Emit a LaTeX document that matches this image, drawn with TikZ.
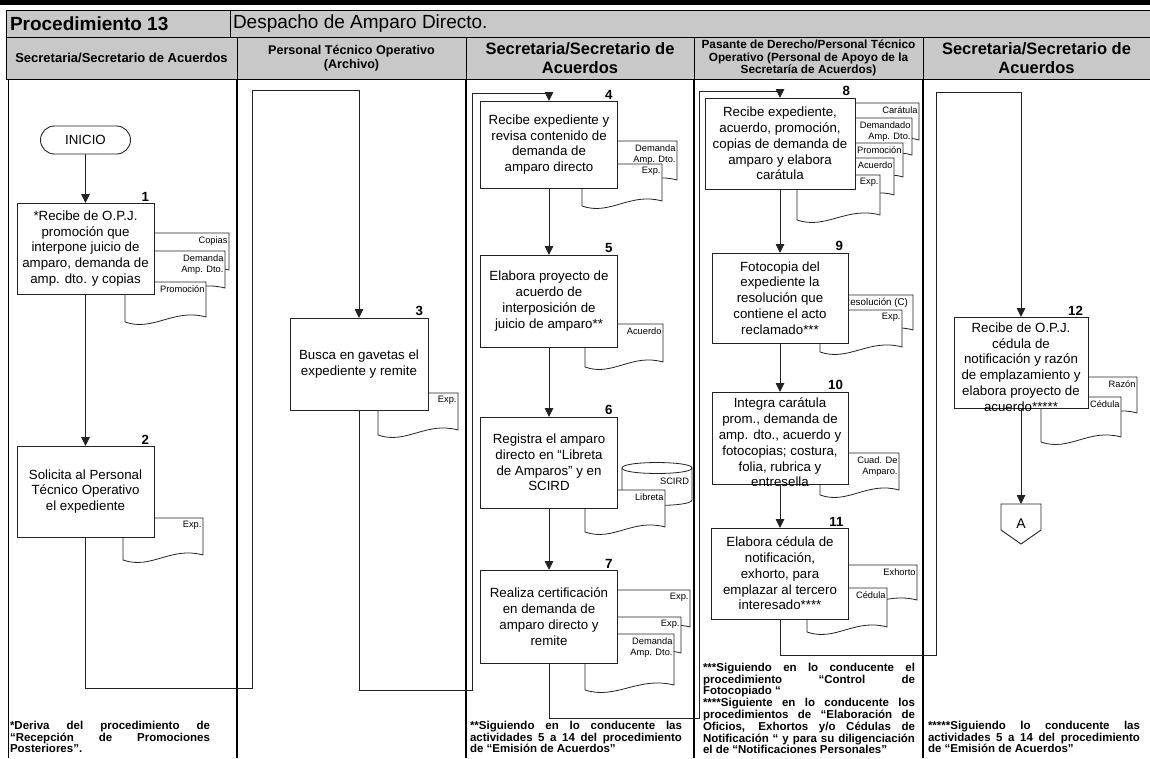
\documentclass[tikz,border=0pt]{standalone}
\usepackage{fontspec}
\setmainfont{Liberation Sans}
\usetikzlibrary{arrows.meta}
\definecolor{hdr}{RGB}{200,200,200}
\definecolor{ln}{RGB}{35,35,35}
\tikzset{
 every node/.style={inner sep=0pt, outer sep=0pt},
 proc/.style={draw=ln, line width=0.9pt, fill=white, align=center, font=\fontsize{13.3}{15.8}\selectfont},
 ptext/.style={align=center, font=\fontsize{13.3}{15.8}\selectfont},
 num/.style={font=\bfseries\fontsize{13.3}{14}\selectfont, anchor=south east},
 flow/.style={draw=ln, line width=0.9pt},
 arr/.style={flow, -{Triangle[length=9pt,width=8.5pt]}},
 docline/.style={draw=ln, line width=0.8pt, fill=white},
 doclabel/.style={font=\fontsize{9.3}{11.5}\selectfont, align=right, anchor=north east},
 lane/.style={line width=2.2pt, black},
 hdrcell/.style={fill=hdr, draw=black, line width=0.7pt},
 foot/.style={font=\bfseries\fontsize{11.5}{11.8}\selectfont, align=left, anchor=north west},
}
\newcommand{\docu}[6]{%
  \draw[docline] (#2,#3) -- (#4,#3) -- (#4,{#5-5}) .. controls ({#2+0.6*(#4-#2)},{#5-14}) and ({#2+0.35*(#4-#2)},{#5+10}) .. (#2,#5) -- cycle;
  \node[doclabel] (#1) at ({#4-1.5},{#3+3.5}) {#6};}
\newcommand{\jl}[2]{\leavevmode\hbox to #1{\spaceskip=0pt plus 1fil\relax #2}}
\begin{document}
\begin{tikzpicture}[x=1pt,y=-1pt]
\useasboundingbox (0,0) rectangle (1150,758);
% ---------- header ----------
\fill[black] (0,0) rectangle (1150,5);
\draw[hdrcell] (6,10) rectangle (230,37);
\draw[hdrcell] (230,10) rectangle (1150,37);
\draw[hdrcell] (6,37) rectangle (237,79);
\draw[hdrcell] (237,37) rectangle (466,79);
\draw[hdrcell] (466,37) rectangle (694,79);
\draw[hdrcell] (694,37) rectangle (923,79);
\draw[hdrcell] (923,37) rectangle (1150,79);
\node[anchor=west, font=\bfseries\fontsize{19}{22}\selectfont] (proc) at (10,23.5) {Procedimiento 13};
\node[anchor=west, font=\fontsize{19}{22}\selectfont] (tit) at (233,23.5) {Despacho de Amparo Directo.};
\node[font=\bfseries\fontsize{13}{15}\selectfont] (h1) at (121.5,58) {Secretaria/Secretario de Acuerdos};
\node[align=center, font=\bfseries\fontsize{12.6}{14}\selectfont] (h2) at (351.5,58) {Personal Técnico Operativo\\(Archivo)};
\node[align=center, font=\bfseries\fontsize{16.5}{19}\selectfont] (h3) at (580,58) {Secretaria/Secretario de\\Acuerdos};
\node[align=center, font=\bfseries\fontsize{11.8}{12.5}\selectfont] (h4) at (808.5,58) {Pasante de Derecho/Personal Técnico\\Operativo (Personal de Apoyo de la\\Secretaría de Acuerdos)};
\node[align=center, font=\bfseries\fontsize{16.5}{19}\selectfont] (h5) at (1036.5,58) {Secretaria/Secretario de\\Acuerdos};
% ---------- lanes ----------
\draw[line width=0.8pt] (8,79) -- (8,758);
\draw[lane] (237,79) -- (237,758);
\draw[lane] (466,79) -- (466,758);
\draw[lane] (694,79) -- (694,758);
\draw[lane] (923,79) -- (923,758);
% ---------- documents ----------
\docu{d1a}{140}{233}{229}{275}{Copias}
\docu{d1b}{136}{251}{225}{293}{Demanda\\Amp. Dto.}
\docu{d1c}{125}{282}{206}{322}{Promoción}
\docu{d2}{123}{518}{203}{560}{Exp.}
\docu{d3}{378}{393}{458}{435}{Exp.}
\docu{d4a}{600}{141}{677}{185}{Demanda\\Amp. Dto.}
\docu{d4b}{582}{164}{662}{206}{Exp.}
\docu{d5}{585}{324}{663}{367}{Acuerdo}
% cylinder SCIRD
\draw[docline] (622,468) -- (622,500) .. controls (622,507.3) and (692,507.3) .. (692,500) -- (692,468) .. controls (692,460.7) and (622,460.7) .. (622,468) -- cycle;
\draw[docline] (622,468) .. controls (622,475.3) and (692,475.3) .. (692,468);
\node[doclabel] (d6a) at (689,478) {SCIRD};
\docu{d6b}{585}{490}{665}{532}{Libreta}
\docu{d7a}{600}{590}{690}{632}{Exp.}
\docu{d7b}{600}{617}{681}{658}{Exp.}
\docu{d7c}{585}{634}{674}{690}{Demanda\\Amp. Dto.}
\docu{d8a}{840}{103}{919}{145}{Carátula}
\docu{d8b}{835}{118}{912}{160}{Demandado\\Amp. Dto.}
\docu{d8c}{830}{143}{903}{182}{Promoción}
\docu{d8d}{825}{158}{894}{200}{Acuerdo}
\docu{d8e}{797}{175}{880}{220}{Exp.}
\draw[docline] (838,295) -- (913,295) -- (913,330) .. controls (883,321) and (864,345) .. (838,335) -- cycle;
\node[doclabel, font=\fontsize{9.8}{11.5}\selectfont] (d9a) at (908,298.5) {Resolución (C)};
\docu{d9b}{820}{310}{902}{352}{Exp.}
\docu{d10}{820}{453}{899}{495}{Cuad. De\\Amparo.}
\docu{d11a}{830}{565}{917}{605}{Exhorto}
\docu{d11b}{807}{588}{887}{632}{Cédula}
\docu{d12a}{1060}{377}{1137}{418}{Razón}
\docu{d12b}{1041}{397}{1121}{442}{Cédula}
% ---------- process boxes ----------
\node[draw=ln, line width=0.9pt, fill=white, rounded corners=14pt, minimum width=90pt, minimum height=28pt, font=\fontsize{13.3}{15}\selectfont] (ini) at (85.5,140) {INICIO};
\node[proc, minimum width=137pt, minimum height=91pt] (b1) at (85.5,248.5) {*Recibe de O.P.J.\\promoción que\\interpone juicio de\\amparo, demanda de\\amp. dto. y copias};
\node[proc, minimum width=137pt, minimum height=91pt] (b2) at (85.5,491.5) {Solicita al Personal\\Técnico Operativo\\el expediente};
\node[proc, minimum width=138pt, minimum height=92pt] (b3) at (359,364) {Busca en gavetas el\\expediente y remite};
\node[proc, minimum width=137pt, minimum height=87pt] (b4) at (549,144.5) {Recibe expediente y\\revisa contenido de\\demanda de\\amparo directo};
\node[proc, minimum width=137pt, minimum height=92pt] (b5) at (549,301) {Elabora proyecto de\\acuerdo de\\interposición de\\juicio de amparo**};
\node[proc, minimum width=137pt, minimum height=91pt] (b6) at (549,462.5) {Registra el amparo\\directo en “Libreta\\de Amparos” y en\\SCIRD};
\node[proc, minimum width=137pt, minimum height=93pt] (b7) at (549,616.5) {Realiza certificación\\en demanda de\\amparo directo y\\remite};
\node[proc, minimum width=150pt, minimum height=91pt] (b8) at (780,143.5) {Recibe expediente,\\acuerdo, promoción,\\copias de demanda de\\amparo y elabora\\carátula};
\node[proc, minimum width=136pt, minimum height=90pt] (b9) at (780,298) {Fotocopia del\\expediente la\\resolución que\\contiene el acto\\reclamado***};
\node[proc, minimum width=136pt, minimum height=92pt] (b10) at (780,438) {};
\node[ptext] (b10t) at ([yshift=-4.5pt]b10.center) {Integra carátula\\prom., demanda de\\amp. dto., acuerdo y\\fotocopias; costura,\\folia, rubrica y\\entresella};
\node[proc, minimum width=137pt, minimum height=91pt] (b11) at (780,573.5) {Elabora cédula de\\notificación,\\exhorto, para\\emplazar al tercero\\interesado****};
\node[proc, minimum width=134pt, minimum height=91pt] (b12) at (1021,362.5) {};
\node[ptext] (b12t) at ([yshift=-4.5pt]b12.center) {Recibe de O.P.J.\\cédula de\\notificación y razón\\de emplazamiento y\\elabora proyecto de\\acuerdo*****};
% numbers
\foreach \b/\n in {b1/1,b2/2,b3/3,b4/4,b5/5,b6/6,b7/7,b8/8,b9/9,b10/10,b11/11,b12/12}
  \node[num] (n\n) at ([xshift=-5pt,yshift=2pt]\b.north east) {\n};
% off-page connector
\node[minimum width=40pt, minimum height=40pt, font=\fontsize{14}{16}\selectfont] (A) at (1021,524) {A};
\draw[flow] (A.north west) -- (A.north east) -- ([yshift=14pt]A.south east) -- (A.south) -- ([yshift=14pt]A.south west) -- cycle;
% ---------- connectors ----------
\coordinate (k2a) at (252,688); \coordinate (k2b) at (252,90);
\coordinate (k3a) at (472,690); \coordinate (k3b) at (472,93);
\coordinate (k7a) at (699,718); \coordinate (k7b) at (699,91);
\coordinate (k11a) at (936,655); \coordinate (k11b) at (936,92);
\draw[arr] (ini.south) -- (ini.south |- b1.north);
\draw[arr] (b1.south) -- (b1.south |- b2.north);
\draw[arr] (b2.south) |- (k2a) -- (k2b) -| (b3.north);
\draw[arr] (b3.south) |- (k3a) -- (k3b) -| (b4.north);
\draw[arr] (b4.south) -- (b4.south |- b5.north);
\draw[arr] (b5.south) -- (b5.south |- b6.north);
\draw[arr] (b6.south) -- (b6.south |- b7.north);
\draw[arr] (b7.south) |- (k7a) -- (k7b) -| (b8.north);
\draw[arr] (b8.south) -- (b8.south |- b9.north);
\draw[arr] (b9.south) -- (b9.south |- b10.north);
\draw[arr] (b10.south) -- (b10.south |- b11.north);
\draw[arr] (b11.south) |- (k11a) -- (k11b) -| (b12.north);
\draw[arr] (b12.south) -- (b12.south |- A.north);
% ---------- footnotes ----------
\node[foot] (f1) at (10,721) {\jl{200pt}{*Deriva del procedimiento de}\\\jl{200pt}{“Recepción de Promociones}\\Posteriores”.};
\node[foot] (f3) at (470,721) {\jl{212pt}{**Siguiendo en lo conducente las}\\\jl{212pt}{actividades 5 a 14 del procedimiento}\\de “Emisión de Acuerdos”};
\node[foot] (f4) at (703,663) {\jl{212pt}{***Siguiendo en lo conducente el}\\\jl{212pt}{procedimiento “Control de}\\Fotocopiado “\\\jl{212pt}{****Siguiente en lo conducente los}\\\jl{212pt}{procedimientos de “Elaboración de}\\\jl{212pt}{Oficios, Exhortos y/o Cédulas de}\\\jl{212pt}{Notificación “ y para su diligenciación}\\el de “Notificaciones Personales”};
\node[foot] (f5) at (928,721) {\jl{212pt}{*****Siguiendo lo conducente las}\\\jl{212pt}{actividades 5 a 14 del procedimiento}\\de “Emisión de Acuerdos”};
\end{tikzpicture}
\end{document}
